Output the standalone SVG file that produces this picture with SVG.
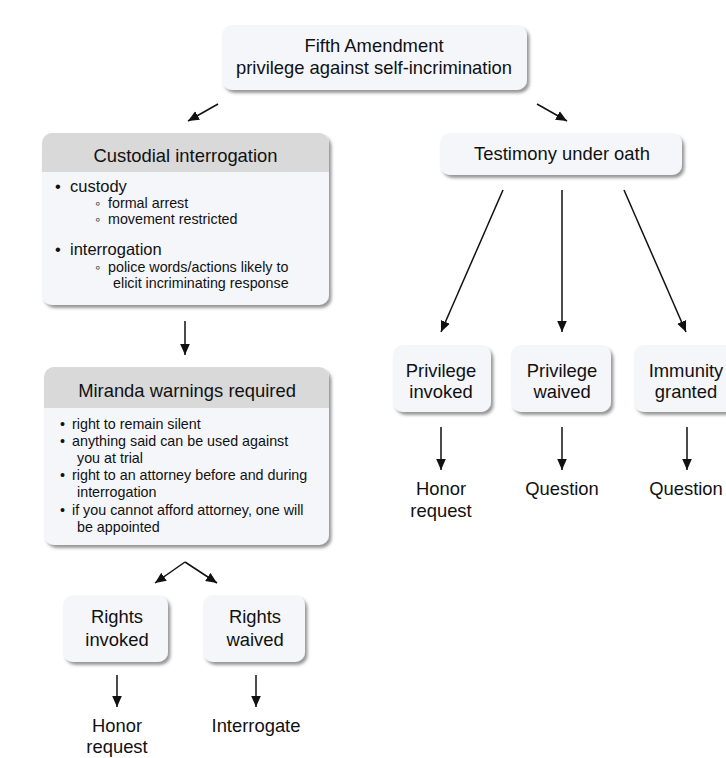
<svg xmlns="http://www.w3.org/2000/svg" width="726" height="758" viewBox="0 0 726 758">
<defs>
<filter id="sh" x="-10%" y="-10%" width="130%" height="140%">
<feDropShadow dx="2.5" dy="3" stdDeviation="1.5" flood-color="#444" flood-opacity="0.55"/>
</filter>
<marker id="ah" markerUnits="userSpaceOnUse" markerWidth="11" markerHeight="11" refX="10" refY="5" orient="auto" viewBox="0 0 10 10">
<path d="M0,0.6 L10,5 L0,9.4 z" fill="#111"/>
</marker>
<clipPath id="hc1"><rect x="42" y="133" width="287" height="172" rx="10"/></clipPath>
<clipPath id="hc2"><rect x="44" y="367" width="285" height="178" rx="10"/></clipPath>
</defs>
<style>
.box{fill:#f4f6fa;filter:url(#sh)}
.hd{fill:#d9d9d9}
text{font-family:"Liberation Sans",Arial,sans-serif;fill:#111}
.t{font-size:18.4px;text-anchor:middle}
.b1{font-size:16.5px}
.b2{font-size:14.3px}
.ln{stroke:#111;stroke-width:1.5;fill:none;marker-end:url(#ah)}
</style>
<rect width="726" height="758" fill="#ffffff"/>

<g id="fifth">
<rect class="box" x="222" y="25" width="305" height="65" rx="10"/>
<text class="t" x="374" y="52">Fifth Amendment</text>
<text class="t" x="374" y="74">privilege against self-incrimination</text>
</g>

<g id="custodial">
<rect class="box" x="42" y="133" width="287" height="172" rx="10"/>
<rect class="hd" x="42" y="133" width="287" height="39" clip-path="url(#hc1)"/>
<text class="t" x="185.5" y="162">Custodial interrogation</text>
<text class="b1" x="55" y="192">•</text>
<text class="b1" x="70" y="192">custody</text>
<text class="b2" x="95" y="208">◦</text>
<text class="b2" x="108" y="208">formal arrest</text>
<text class="b2" x="95" y="224">◦</text>
<text class="b2" x="108" y="224">movement restricted</text>
<text class="b1" x="55" y="255">•</text>
<text class="b1" x="70" y="255">interrogation</text>
<text class="b2" x="95" y="272">◦</text>
<text class="b2" x="108" y="272">police words/actions likely to</text>
<text class="b2" x="113" y="288">elicit incriminating response</text>
</g>

<g id="miranda">
<rect class="box" x="44" y="367" width="285" height="178" rx="10"/>
<rect class="hd" x="44" y="367" width="285" height="41" clip-path="url(#hc2)"/>
<text class="t" x="187" y="397">Miranda warnings required</text>
<text class="b2" x="60" y="429">•</text>
<text class="b2" x="72" y="429">right to remain silent</text>
<text class="b2" x="60" y="446">•</text>
<text class="b2" x="72" y="446">anything said can be used against</text>
<text class="b2" x="77" y="463">you at trial</text>
<text class="b2" x="60" y="480">•</text>
<text class="b2" x="72" y="480">right to an attorney before and during</text>
<text class="b2" x="77" y="497">interrogation</text>
<text class="b2" x="60" y="515">•</text>
<text class="b2" x="72" y="515">if you cannot afford attorney, one will</text>
<text class="b2" x="77" y="532">be appointed</text>
</g>

<g id="testimony">
<rect class="box" x="440" y="133" width="242" height="42" rx="10"/>
<text class="t" x="562" y="160">Testimony under oath</text>
</g>

<g id="priv-invoked">
<rect class="box" x="393" y="345" width="98" height="67" rx="10"/>
<text class="t" x="441" y="377">Privilege</text>
<text class="t" x="441" y="398">invoked</text>
</g>

<g id="priv-waived">
<rect class="box" x="511" y="345" width="100" height="67" rx="10"/>
<text class="t" x="562" y="377">Privilege</text>
<text class="t" x="562" y="398">waived</text>
</g>

<g id="immunity">
<rect class="box" x="634" y="345" width="104" height="67" rx="10"/>
<text class="t" x="686" y="377">Immunity</text>
<text class="t" x="686" y="398">granted</text>
</g>

<g id="out-honor1">
<text class="t" x="441" y="495">Honor</text>
<text class="t" x="441" y="517">request</text>
</g>
<g id="out-question1"><text class="t" x="562" y="495">Question</text></g>
<g id="out-question2"><text class="t" x="686" y="495">Question</text></g>

<g id="rights-invoked">
<rect class="box" x="63" y="595" width="105" height="67" rx="10"/>
<text class="t" x="117" y="623">Rights</text>
<text class="t" x="117" y="646">invoked</text>
</g>

<g id="rights-waived">
<rect class="box" x="203" y="595" width="102" height="67" rx="10"/>
<text class="t" x="255" y="623">Rights</text>
<text class="t" x="255" y="646">waived</text>
</g>

<g id="out-honor2">
<text class="t" x="117" y="732">Honor</text>
<text class="t" x="117" y="753">request</text>
</g>
<g id="out-interrogate"><text class="t" x="256" y="732">Interrogate</text></g>

<g id="connectors">
<line class="ln" x1="218" y1="104" x2="188" y2="121"/>
<line class="ln" x1="537" y1="104" x2="567" y2="121"/>
<line class="ln" x1="185" y1="321" x2="185" y2="355"/>
<line class="ln" x1="503" y1="190" x2="441" y2="332"/>
<line class="ln" x1="562" y1="190" x2="562" y2="332"/>
<line class="ln" x1="624" y1="190" x2="686" y2="332"/>
<line class="ln" x1="441" y1="427" x2="441" y2="470"/>
<line class="ln" x1="562" y1="427" x2="562" y2="470"/>
<line class="ln" x1="687" y1="427" x2="687" y2="470"/>
<line class="ln" x1="185" y1="562" x2="155" y2="583"/>
<line class="ln" x1="185" y1="562" x2="217" y2="583"/>
<line class="ln" x1="117" y1="675" x2="117" y2="707"/>
<line class="ln" x1="256" y1="675" x2="256" y2="707"/>
</g>
</svg>
